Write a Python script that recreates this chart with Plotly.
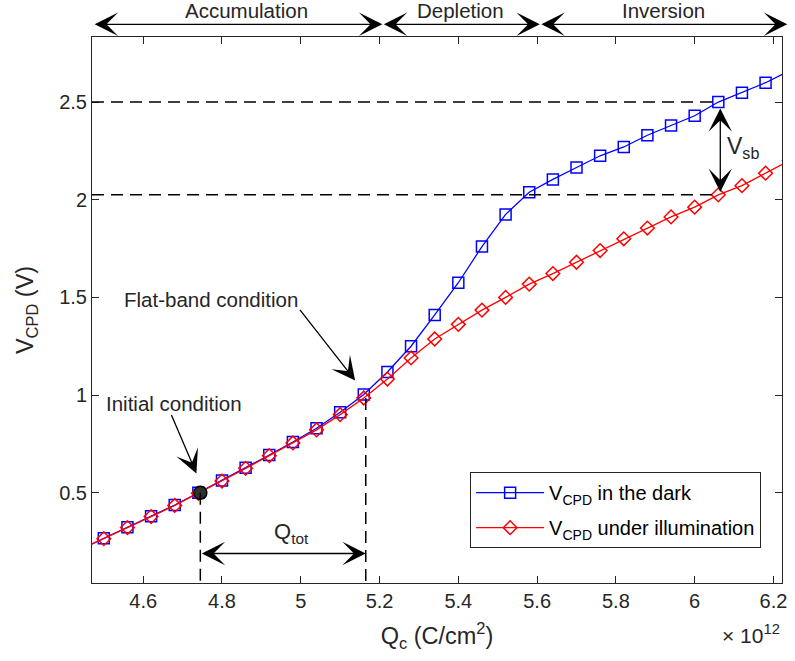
import plotly.graph_objects as go

# Surface charge density (units of 1e12 C/cm^2)
q_c = [4.44, 4.50, 4.56, 4.62, 4.68, 4.74, 4.80, 4.86, 4.92, 4.98, 5.04,
       5.10, 5.16, 5.22, 5.28, 5.34, 5.40, 5.46, 5.52, 5.58, 5.64, 5.70,
       5.76, 5.82, 5.88, 5.94, 6.00, 6.06, 6.12, 6.18, 6.24]

# Contact potential difference in the dark (V)
v_dark = [0.210, 0.267, 0.323, 0.380, 0.437, 0.500, 0.563, 0.628, 0.693,
          0.760, 0.830, 0.912, 1.003, 1.118, 1.250, 1.410, 1.575, 1.760,
          1.925, 2.038, 2.104, 2.165, 2.225, 2.270, 2.330, 2.380, 2.430,
          2.500, 2.548, 2.599, 2.660]

# Contact potential difference under illumination (V)
v_light = [0.210, 0.265, 0.322, 0.378, 0.435, 0.497, 0.560, 0.625, 0.690,
           0.755, 0.822, 0.900, 0.985, 1.082, 1.190, 1.287, 1.362, 1.435,
           1.500, 1.568, 1.622, 1.680, 1.740, 1.800, 1.855, 1.912, 1.962,
           2.025, 2.072, 2.136, 2.200]

# Operating points
init_q, init_v = 4.745, 0.50
flat_q = 5.165
sb_q = 6.06

# Regime boundaries along Q_c
regime_names = ["Accumulation", "Depletion", "Inversion"]
regime_edges = [4.473, 5.207, 5.607, 6.235]
regime_label_x = [4.863, 5.405, 5.921]

x_ticks = [4.6, 4.8, 5.0, 5.2, 5.4, 5.6, 5.8, 6.0, 6.2]
x_tick_text = ["4.6", "4.8", "5", "5.2", "5.4", "5.6", "5.8", "6", "6.2"]
y_ticks = [0.5, 1.0, 1.5, 2.0, 2.5]
y_tick_text = ["0.5", "1", "1.5", "2", "2.5"]

x_range = [4.47, 6.2217]
y_range = [0.038, 2.833]

FONT = "Liberation Sans, Arial, Helvetica, sans-serif"
AX_COL = "#262626"

sb_idx = q_c.index(sb_q)
v_sb_dark = v_dark[sb_idx]
v_sb_light = v_light[sb_idx]
flat_v = v_light[q_c.index(5.16)]

fig = go.Figure()

fig.add_trace(go.Scatter(
    x=q_c, y=v_dark, mode="lines+markers",
    name="V<sub>CPD</sub> in the dark", legendgroup="dark",
    line=dict(color="#0000FF", width=1.3),
    marker=dict(symbol="square-open", size=11, color="#0000FF",
                line=dict(width=1.5, color="#0000FF")),
))
fig.add_trace(go.Scatter(
    x=q_c, y=v_light, mode="lines+markers",
    name="V<sub>CPD</sub> under illumination", legendgroup="light",
    line=dict(color="#FF0000", width=1.3),
    marker=dict(symbol="diamond-open", size=10.5, color="#FF0000",
                line=dict(width=1.5, color="#FF0000")),
))
fig.add_trace(go.Scatter(
    x=[init_q], y=[init_v], mode="markers", showlegend=False,
    marker=dict(symbol="circle", size=13, color="#303030",
                line=dict(width=1.5, color="black")),
))

dash_line = dict(color="black", width=1.5, dash="12px,7px")
shapes = [
    dict(type="line", xref="x", yref="y", x0=x_range[0], x1=sb_q,
         y0=v_sb_dark, y1=v_sb_dark, line=dash_line),
    dict(type="line", xref="x", yref="y", x0=x_range[0], x1=sb_q,
         y0=v_sb_light, y1=v_sb_light, line=dash_line),
    dict(type="line", xref="x", yref="y", x0=init_q, x1=init_q,
         y0=init_v, y1=y_range[0], line=dash_line),
    dict(type="line", xref="x", yref="y", x0=flat_q, x1=flat_q,
         y0=flat_v, y1=y_range[0], line=dash_line),
]

arrow_style = dict(arrowhead=3, arrowsize=3.0, arrowwidth=1.3,
                   arrowcolor="black", startarrowhead=3, startarrowsize=3.0)
text_font = dict(family=FONT, size=20.5, color=AX_COL)

annotations = []
# Regime arrows above the plot
for i, name in enumerate(regime_names):
    annotations.append(dict(
        xref="x", yref="paper", x=regime_edges[i + 1], y=1.0233,
        axref="x", ayref="pixel", ax=regime_edges[i], ay=0,
        text="", showarrow=True, arrowside="end+start", **arrow_style))
    annotations.append(dict(
        xref="x", yref="paper", x=regime_label_x[i], y=1.049,
        text=name, showarrow=False, font=text_font,
        xanchor="center", yanchor="middle"))

# Flat-band and initial condition callouts
annotations += [
    dict(xref="x", yref="y", x=5.138, y=1.075, axref="x", ayref="y",
         ax=4.995, ay=1.444, text="", showarrow=True, arrowside="end",
         **arrow_style),
    dict(xref="x", yref="y", x=4.773, y=1.49, text="Flat-band condition",
         showarrow=False, font=text_font, xanchor="center", yanchor="middle"),
    dict(xref="x", yref="y", x=4.735, y=0.599, axref="x", ayref="y",
         ax=4.670, ay=0.906, text="", showarrow=True, arrowside="end",
         **arrow_style),
    dict(xref="x", yref="y", x=4.679, y=0.957, text="Initial condition",
         showarrow=False, font=text_font, xanchor="center", yanchor="middle"),
    # Surface band bending
    dict(xref="x", yref="y", x=6.065, y=v_sb_light + 0.015, axref="x",
         ayref="y", ax=6.065, ay=v_sb_dark - 0.025, text="", showarrow=True,
         arrowside="end+start", **arrow_style),
    dict(xref="x", yref="y", x=6.076, y=2.265, text="V<sub>sb</sub>",
         showarrow=False, font=dict(family=FONT, size=23, color=AX_COL),
         xanchor="left", yanchor="middle"),
    # Total charge
    dict(xref="x", yref="y", x=flat_q, y=0.189, axref="x", ayref="y",
         ax=init_q, ay=0.189, text="", showarrow=True,
         arrowside="end+start", **arrow_style),
    dict(xref="x", yref="y", x=4.977, y=0.295, text="Q<sub>tot</sub>",
         showarrow=False, font=dict(family=FONT, size=22, color=AX_COL),
         xanchor="center", yanchor="middle"),
    # Exponent of the x axis
    dict(xref="paper", yref="paper", x=1.0, y=-0.093, text="× 10<sup>12</sup>",
         showarrow=False, font=dict(family=FONT, size=21, color=AX_COL),
         xanchor="right", yanchor="middle"),
]

axis_common = dict(
    showline=True, linecolor=AX_COL, linewidth=1, mirror="ticks",
    ticks="inside", ticklen=7, tickwidth=1, tickcolor=AX_COL,
    showgrid=False, zeroline=False,
    tickfont=dict(family=FONT, size=20, color=AX_COL),
)

fig.update_layout(
    width=795, height=661,
    margin=dict(l=92, r=8, t=37, b=78),
    paper_bgcolor="white", plot_bgcolor="white",
    font=dict(family=FONT, color=AX_COL),
    xaxis=dict(range=x_range, tickvals=x_ticks, ticktext=x_tick_text,
               title=dict(text="Q<sub>c</sub> (C/cm<sup>2</sup>)",
                          font=dict(family=FONT, size=23.5, color=AX_COL),
                          standoff=16),
               **axis_common),
    yaxis=dict(range=y_range, tickvals=y_ticks, ticktext=y_tick_text,
               title=dict(text="V<sub>CPD</sub> (V)",
                          font=dict(family=FONT, size=23.5, color=AX_COL),
                          standoff=18),
               **axis_common),
    legend=dict(x=0.548, y=0.203, xanchor="left", yanchor="top",
                bgcolor="white", bordercolor=AX_COL, borderwidth=1,
                font=dict(family=FONT, size=20, color="black"),
                itemwidth=68, tracegroupgap=6),
    shapes=shapes,
    annotations=annotations,
)

fig.write_html("out.html")
